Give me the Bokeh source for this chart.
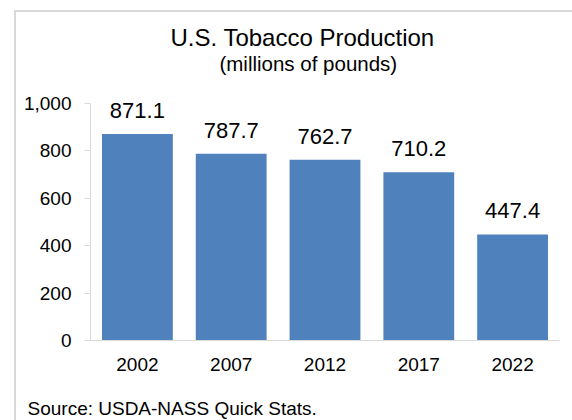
from bokeh.plotting import figure
from bokeh.models import (ColumnDataSource, LabelSet, Label, Title, Range1d, FixedTicker,
                          NumeralTickFormatter)
from bokeh.core.properties import value
from bokeh.embed import file_html
from bokeh.resources import INLINE

# ---- data ----
years = ["2002", "2007", "2012", "2017", "2022"]
production = [871.1, 787.7, 762.7, 710.2, 447.4]
y_ticks = [0, 200, 400, 600, 800, 1000]
title_text = "U.S. Tobacco Production"
subtitle_text = "(millions of pounds)"
source_text = "Source: USDA-NASS Quick Stats."

FONT = "Liberation Sans"
BAR = "#4f81bd"
GRAY = "#d9d9d9"

W, H = 572, 420
SRC_BORDER = 25          # bottom strip that holds the source note
PX_PER_UNIT = 0.237      # 1000 units of production = 237 px
Y0_PX = 340              # screen row of the zero line
Y_END = 1000 + 103 / PX_PER_UNIT
Y_START = -((H - SRC_BORDER) - Y0_PX) / PX_PER_UNIT

src = ColumnDataSource(dict(years=years, production=production,
                            labels=[f"{v:.1f}" for v in production]))

frame_css = (f"linear-gradient({GRAY},{GRAY}) 14px 10px / calc(100% - 14px) 2px no-repeat, "
             f"linear-gradient({GRAY},{GRAY}) 14px 10px / 2px calc(100% - 10px) no-repeat, #ffffff")

p = figure(x_range=years, y_range=Range1d(Y_START, Y_END),
           width=W, height=H, output_backend="svg", toolbar_location=None,
           min_border_left=90, min_border_right=13, min_border_top=0,
           min_border_bottom=SRC_BORDER,
           styles={"background": frame_css})
p.title.visible = False
p.outline_line_color = None
p.background_fill_color = None
p.border_fill_color = None
p.xgrid.grid_line_color = None
p.ygrid.grid_line_color = None

p.vbar(x="years", top="production", width=0.755, source=src,
       fill_color=BAR, line_color=None)

labels = LabelSet(x="years", y="production", text="labels", source=src,
                  text_align="center", text_baseline="alphabetic", y_offset=16,
                  text_font=value(FONT), text_font_size=value("22px"), text_color="black")
p.add_layout(labels)

# y axis (line and ticks only over 0..1000)
ya = p.yaxis[0]
ya.bounds = (0, 1000)
ya.ticker = FixedTicker(ticks=y_ticks)
ya.formatter = NumeralTickFormatter(format="0,0")
ya.axis_line_color = GRAY
ya.major_tick_line_color = GRAY
ya.major_tick_out = 6
ya.major_tick_in = 0
ya.minor_tick_line_color = None
ya.major_label_standoff = 13
ya.major_label_text_font = FONT
ya.major_label_text_font_size = "19px"
ya.major_label_text_color = "black"

# x axis placed on the zero line
xa = p.xaxis[0]
xa.fixed_location = 0
xa.axis_line_color = GRAY
xa.major_tick_line_color = None
xa.major_tick_out = 0
xa.major_tick_in = 0
xa.minor_tick_line_color = None
xa.major_label_standoff = 17
xa.major_label_text_font = FONT
xa.major_label_text_font_size = "19px"
xa.major_label_text_color = "black"

# chart title and subtitle (vertically centred on their rows)
p.add_layout(Label(x=2.261, y=(Y0_PX - 36.5) / PX_PER_UNIT, text=title_text,
                   text_align="center", text_baseline="middle", text_font=FONT,
                   text_font_size="24px", text_color="black"))
p.add_layout(Label(x=2.322, y=(Y0_PX - 62.5) / PX_PER_UNIT, text=subtitle_text,
                   text_align="center", text_baseline="middle", text_font=FONT,
                   text_font_size="20.5px", text_color="black"))

# source note
p.add_layout(Title(text=source_text, align="left", offset=-63, standoff=0,
                   text_font=FONT, text_font_size="19px", text_font_style="normal",
                   text_color="black"), "below")

open("out.html", "w").write(file_html(p, INLINE))
